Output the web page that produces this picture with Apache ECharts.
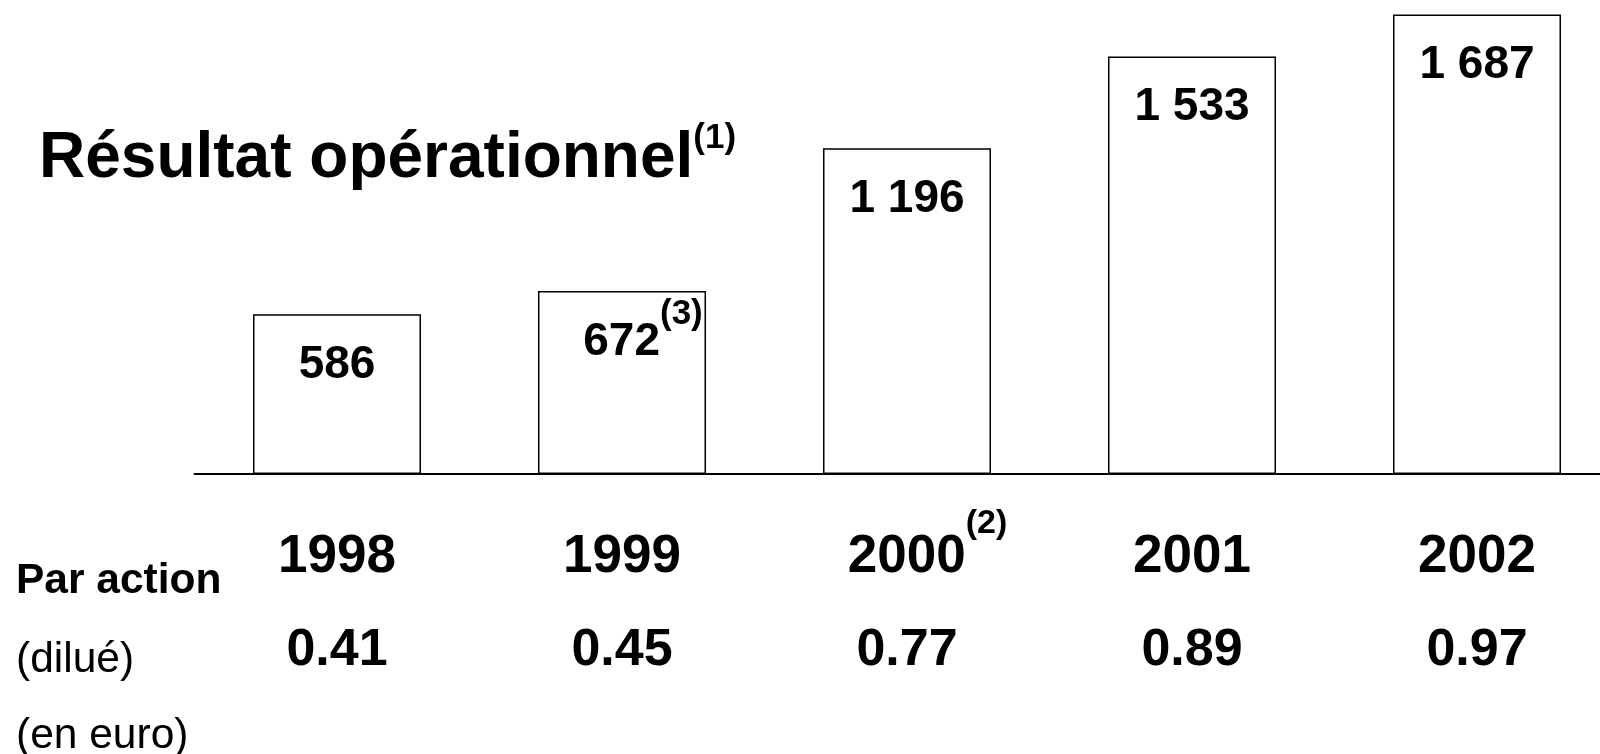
<!DOCTYPE html>
<html>
<head>
<meta charset="utf-8">
<script src="https://cdn.jsdelivr.net/npm/echarts@6/dist/echarts.min.js"></script>
<style>
  html, body { margin: 0; padding: 0; background: #fff; }
  #chart { width: 1600px; height: 754px; }
</style>
</head>
<body>
<div id="chart"></div>
<script>
const years = ['1998', '1999', '2000', '2001', '2002']
const resultat = [586, 672, 1196, 1533, 1687]
const parAction = ['0.41', '0.45', '0.77', '0.89', '0.97']
// footnote markers shown as superscripts
const barNotes = ['', '(3)', '', '', '']
const yearNotes = ['', '', '(2)', '', '']

const FONT = "'Liberation Sans', Arial, sans-serif"

// "1 196" style thousands separator
const fmt = v => String(v).replace(/\B(?=(\d{3})+(?!\d))/g, ' ')

const chart = echarts.init(document.getElementById('chart'))

chart.setOption({
  backgroundColor: '#fff',
  animation: false,
  title: [
    {
      left: 39, top: 121, padding: 0,
      text: '{t|Résultat opérationnel}{s|(1)}',
      textStyle: {
        rich: {
          t: { fontFamily: FONT, fontSize: 64, fontWeight: 'bold', color: '#000', lineHeight: 76 },
          s: { fontFamily: FONT, fontSize: 35, fontWeight: 'bold', color: '#000', lineHeight: 14, verticalAlign: 'top' },
        },
      },
    },
    { left: 16, top: 557, padding: 0, text: 'Par action',
      textStyle: { fontFamily: FONT, fontSize: 42.5, fontWeight: 'bold', color: '#000', lineHeight: 48 } },
    { left: 16, top: 636, padding: 0, text: '(dilué)',
      textStyle: { fontFamily: FONT, fontSize: 42.5, fontWeight: 'normal', color: '#000', lineHeight: 48 } },
    { left: 16, top: 712, padding: 0, text: '(en euro)',
      textStyle: { fontFamily: FONT, fontSize: 42.5, fontWeight: 'normal', color: '#000', lineHeight: 48 } },
  ],
  grid: { left: 194.5, right: -19.5, top: 0, bottom: 280, outerBoundsMode: 'none' },
  xAxis: {
    type: 'category',
    data: years,
    axisLine: { lineStyle: { color: '#000', width: 2 } },
    axisTick: { show: false },
    axisLabel: {
      interval: 0,
      margin: 33,
      formatter: (v, i) => {
        const note = yearNotes[i]
        const top = note ? `{pad|}{y|${v}}{sup|${note}}` : `{y|${v}}`
        return `${top}\n{e|${parAction[i]}}`
      },
      rich: {
        y: { fontFamily: FONT, fontSize: 53, fontWeight: 'bold', color: '#000', lineHeight: 100, align: 'center' },
        e: { fontFamily: FONT, fontSize: 52, fontWeight: 'bold', color: '#000', lineHeight: 88, align: 'center' },
        sup: { fontFamily: FONT, fontSize: 34, fontWeight: 'bold', color: '#000', lineHeight: 32, verticalAlign: 'top', align: 'center' },
        pad: { width: 41, align: 'center' },
      },
    },
  },
  yAxis: { type: 'value', min: 0, max: 1740, show: false },
  series: [{
    type: 'bar',
    data: resultat,
    barWidth: 168,
    itemStyle: { color: '#fff', borderColor: '#000', borderWidth: 1.5 },
    label: {
      show: true,
      position: 'insideTop',
      distance: 6,
      formatter: p => {
        const note = barNotes[p.dataIndex]
        return note ? `{pad|}{v|${fmt(p.value)}}{sup|${note}}` : `{v|${fmt(p.value)}}`
      },
      rich: {
        v: { fontFamily: FONT, fontSize: 46, fontWeight: 'bold', color: '#000', lineHeight: 90, align: 'center' },
        sup: { fontFamily: FONT, fontSize: 35, fontWeight: 'bold', color: '#000', lineHeight: 14, verticalAlign: 'top', align: 'center' },
        pad: { width: 42, align: 'center' },
      },
    },
  }],
})
</script>
</body>
</html>
